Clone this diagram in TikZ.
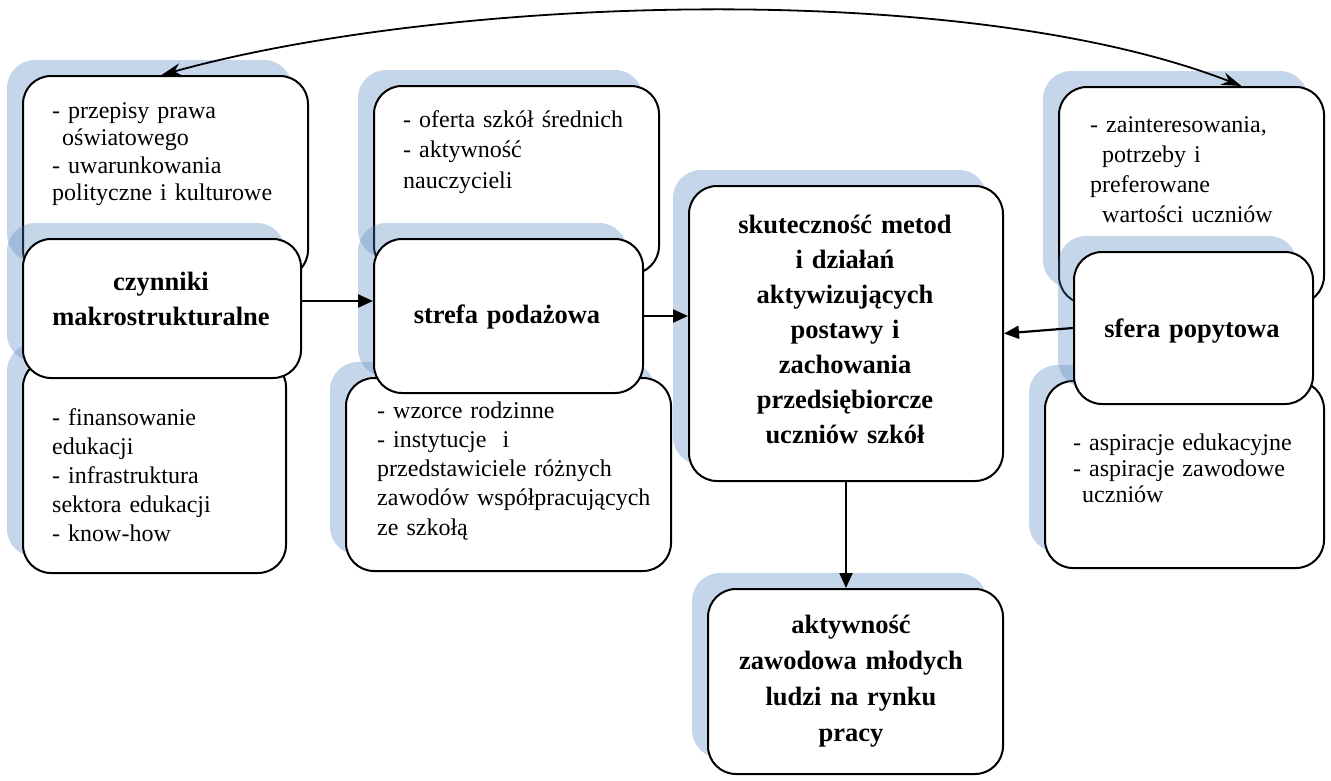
\documentclass[tikz,border=0pt]{standalone}
\usepackage{fontspec}
\setmainfont{Liberation Serif}
\usetikzlibrary{arrows.meta}
\definecolor{shadowc}{RGB}{79,129,189}
\tikzset{
  box/.style={draw=black, line width=2pt, fill=white, rounded corners=28pt, rectangle, inner sep=0pt, anchor=north west},
  shad/.style={fill=shadowc, opacity=0.32, rounded corners=28pt},
  body/.style={font=\fontsize{24}{#1}\selectfont, inner sep=0pt, align=left, text width=280pt, anchor=base west},
  ttl/.style={font=\fontsize{26.5}{#1}\selectfont\bfseries, inner sep=0pt, align=center, text width=300pt, anchor=base},
  arr/.style={line width=2.2pt, -{Triangle[length=15pt,width=13pt]}},
  darr/.style={line width=1.8pt, {Stealth[length=20pt,width=13pt]}-{Stealth[length=20pt,width=13pt]}},
}
\newcommand\shbox[5]{%
  \fill[shad] (#2-15,#3-15) rectangle (#4-15,#5-15);
  \node[box, minimum width=#4-#2, minimum height=#5-#3] (#1) at (#2,#3) {};
}
\begin{document}
\begin{tikzpicture}[x=1pt,y=-1pt]
\useasboundingbox (0,0) rectangle (1331,780);
% left column
\shbox{A1}{22}{75}{307}{277}
\shbox{A3}{22}{358}{285}{572}
\shbox{C1}{22}{238}{300}{377}
% middle column
\shbox{B1}{373}{85}{658}{273}
\shbox{B3}{345}{377}{670}{570}
\shbox{B2}{373}{238}{642}{392}
% central
\shbox{D}{688}{185}{1002}{480}
% right column
\shbox{E1}{1058}{86}{1323}{303}
\shbox{E3}{1044}{380}{1323}{567}
\shbox{E2}{1073}{251}{1312}{403}
% bottom
\shbox{F}{707}{588}{1002}{773}

% texts
\node[body=27.5] (tA1) at (52,118) {- przepisy prawa\\\hspace*{10pt}oświatowego\\- uwarunkowania\\polityczne i kulturowe};
\node[ttl=35] (tC1) at (161,290) {czynniki\\makrostrukturalne};
\node[body=29] (tA3) at (52,425) {- finansowanie\\edukacji\\- infrastruktura\\sektora edukacji\\- know-how};
\node[body=30.5] (tB1) at (403,127) {- oferta szkół średnich\\- aktywność\\nauczycieli};
\node[ttl=35] (tB2) at (507,323) {strefa podażowa};
\node[body=29.3] (tB3) at (377,418) {- wzorce rodzinne\\- instytucje\ \ i\\przedstawiciele różnych\\zawodów współpracujących\\ze szkołą};
\node[ttl=35] (tD) at (845,233) {skuteczność metod\\i działań\\aktywizujących\\postawy i\\zachowania\\przedsiębiorcze\\uczniów szkół};
\node[body=30.3] (tE1) at (1090,132) {- zainteresowania,\\\hspace*{12pt}potrzeby i\\preferowane\\\hspace*{12pt}wartości uczniów};
\node[ttl=35] (tE2) at (1192,337) {sfera popytowa};
\node[body=26] (tE3) at (1073,450) {- aspiracje edukacyjne\\- aspiracje zawodowe\\\hspace*{9pt}uczniów};
\node[ttl=36] (tF) at (851,633) {aktywność\\zawodowa młodych\\ludzi na rynku\\pracy};

% connectors
\draw[arr] ([yshift=7.5pt]C1.east) -- ([yshift=7.5pt]C1.east -| B2.west);
\draw[arr] (B2.east) -- (B2.east -| D.west);
\draw[arr] (E2.west) -- (D.east);
\draw[arr] (D.south) -- (D.south |- F.north);
\draw[darr] ([xshift=-4pt]A1.north) .. controls (446,-4) and (964,-22) .. ([xshift=50pt]E1.north);
\end{tikzpicture}
\end{document}
